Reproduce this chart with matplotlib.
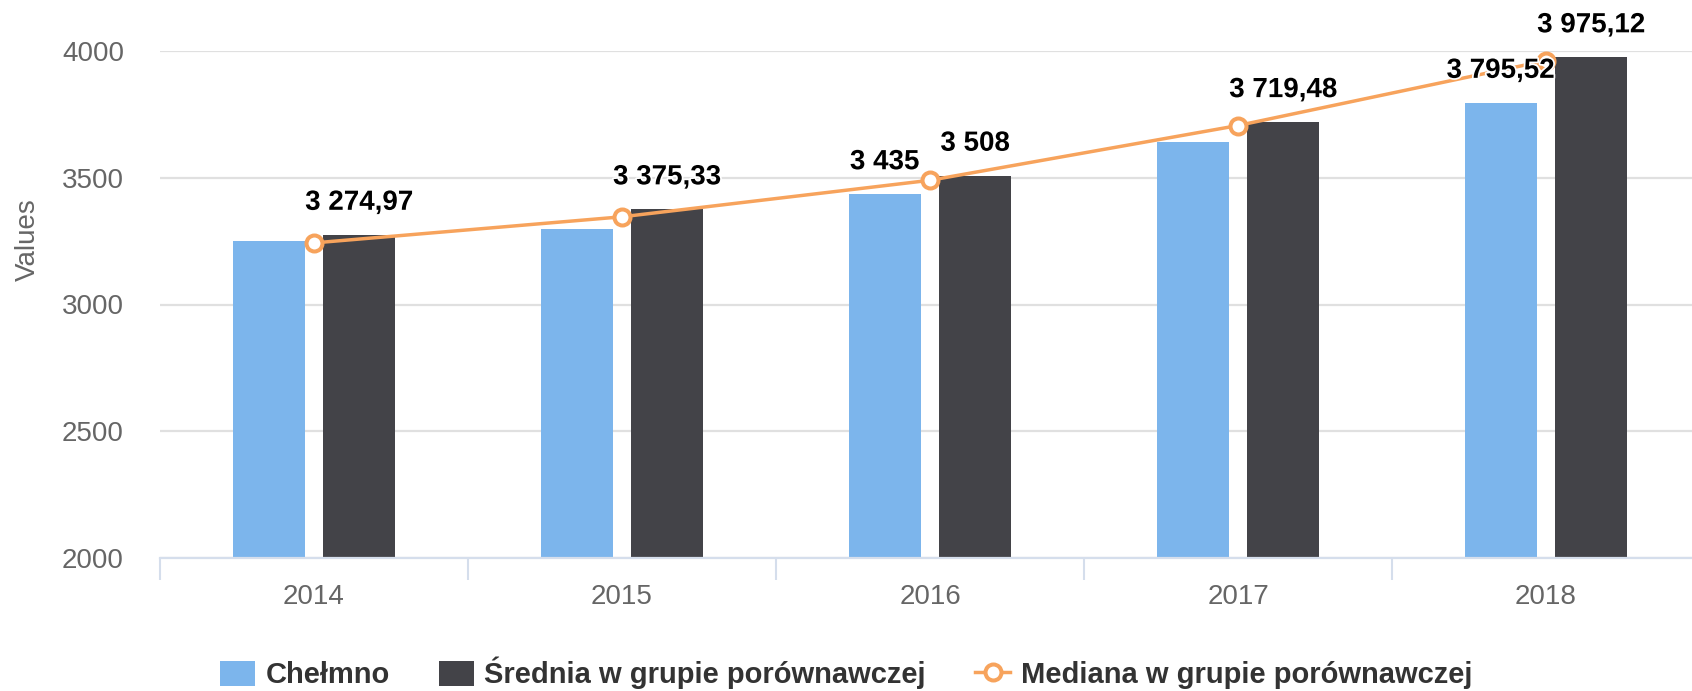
import matplotlib
matplotlib.use("Agg")
import matplotlib.pyplot as plt
import matplotlib.patheffects as pe
from matplotlib.patches import Patch
from matplotlib.lines import Line2D
import numpy as np

plt.rcParams['font.family'] = ['Liberation Sans', 'DejaVu Sans']

# dane
lata = ["2014", "2015", "2016", "2017", "2018"]
chelmno = [3250, 3298, 3435, 3640, 3795.52]
srednia = [3274.97, 3375.33, 3508, 3719.48, 3975.12]
mediana = [3243, 3346, 3490, 3706, 3962]
# ktore etykiety widac na wykresie
etyk_chelmno = [False, False, True, False, True]
etyk_srednia = [True, True, True, True, True]

nazwy = ["Chełmno", "Średnia w grupie porównawczej", "Mediana w grupie porównawczej"]
yticks = [2000, 2500, 3000, 3500, 4000]

kol_jasny = "#7cb5ec"
kol_ciemny = "#434348"
kol_pom = "#f7a35c"


def fmt(v):
    # format polski: spacja tysiecy, przecinek dziesietny
    s = f"{v:,.2f}".replace(",", " ").replace(".", ",")
    if s.endswith(",00"):
        s = s[:-3]
    return s


W, H = 1692, 691
fig = plt.figure(figsize=(W / 100, H / 100), dpi=100)
ax = fig.add_axes([160 / W, 1 - 558 / H, 1532 / W, 507 / H])

x = np.arange(len(lata))
szer = 0.234
off = 0.147

ax.bar(x - off, chelmno, szer, color=kol_jasny, zorder=2)
ax.bar(x + off, srednia, szer, color=kol_ciemny, zorder=2)
ax.plot(x, mediana, "-o", color=kol_pom, lw=2.5, ms=11.5, mfc="white",
        mec=kol_pom, mew=2.9, zorder=3, clip_on=False)

obrys = [pe.withStroke(linewidth=2.5, foreground="white")]
for i in range(len(lata)):
    if etyk_chelmno[i]:
        ax.annotate(fmt(chelmno[i]), (x[i] - off, chelmno[i]), xytext=(0, 18),
                    textcoords="offset points", ha="center", va="baseline",
                    fontsize=20, fontweight="bold", color="black",
                    path_effects=obrys, zorder=5, annotation_clip=False)
    if etyk_srednia[i]:
        ax.annotate(fmt(srednia[i]), (x[i] + off, srednia[i]), xytext=(0, 18),
                    textcoords="offset points", ha="center", va="baseline",
                    fontsize=20, fontweight="bold", color="black",
                    path_effects=obrys, zorder=5, annotation_clip=False)

ax.set_ylim(2000, 4000)
ax.set_xlim(-0.5, -0.5 + 1532 / 308)
ax.set_yticks(yticks)
ax.set_yticklabels([str(t) for t in yticks])
ax.set_xticks(x)
ax.set_xticklabels(lata)
ax.set_xticks(np.arange(-0.5, 4.0, 1.0), minor=True)

ax.tick_params(axis="y", length=0, pad=26, labelsize=20, labelcolor="#666666")
ax.tick_params(axis="x", which="major", length=0, pad=19, labelsize=20, labelcolor="#666666")
ax.tick_params(axis="x", which="minor", length=16, width=1.5, color="#d5deec")

ax.grid(axis="y", color="#e0e0e0", lw=1.6, zorder=0)
ax.set_axisbelow(True)
for s in ["top", "right", "left"]:
    ax.spines[s].set_visible(False)
ax.spines["bottom"].set_color("#d5deec")
ax.spines["bottom"].set_linewidth(1.6)
ax.spines["bottom"].set_zorder(4)

ax.set_ylabel("Values", fontsize=20, color="#666666")
ax.yaxis.set_label_coords(-0.078, 0.627)

uchwyty = [Patch(facecolor=kol_jasny, edgecolor="none"),
           Patch(facecolor=kol_ciemny, edgecolor="none"),
           Line2D([], [], color=kol_pom, lw=2.5, marker="o", ms=11.5, mfc="white",
                  mec=kol_pom, mew=2.9)]
leg = fig.legend(uchwyty, nazwy, loc="center", bbox_to_anchor=(0.5, 1 - 673 / H),
                 ncol=3, frameon=False, prop={"size": 21, "weight": "bold"},
                 handlelength=1.2, handleheight=0.93, handletextpad=0.35,
                 columnspacing=1.7, borderaxespad=0, borderpad=0)
for t in leg.get_texts():
    t.set_color("#333333")

fig.savefig("out.png", dpi=100)
